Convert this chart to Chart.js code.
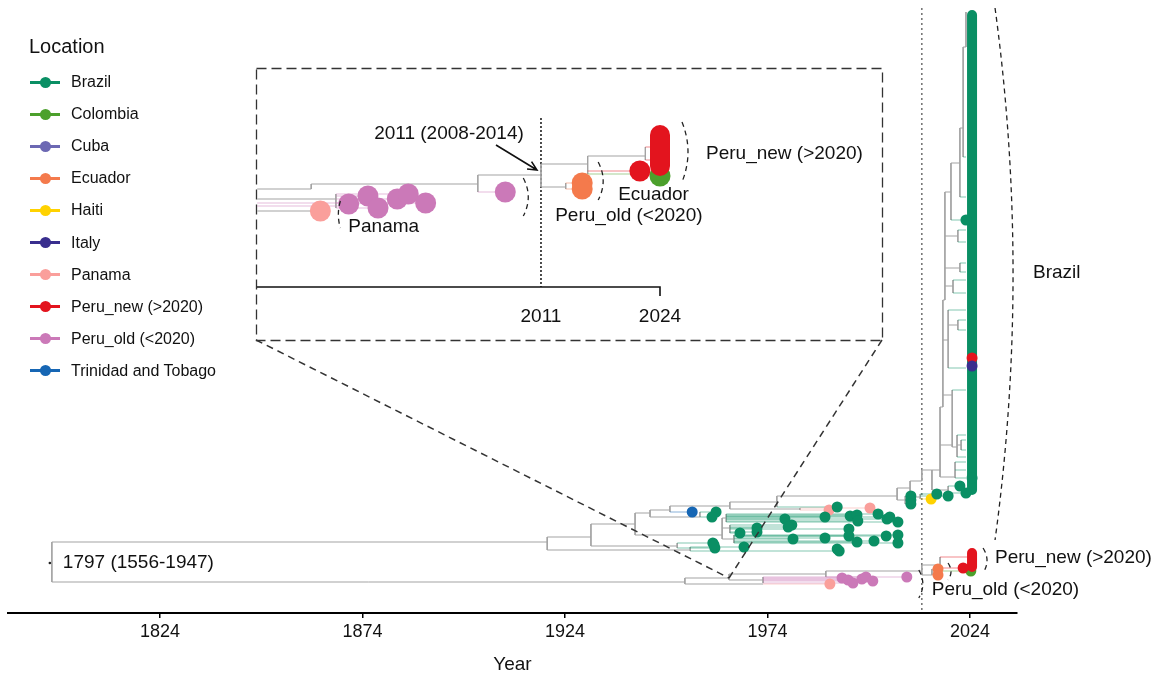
<!DOCTYPE html>
<html>
<head>
<meta charset="utf-8">
<script src="https://cdn.jsdelivr.net/npm/chart.js@4.4.1/dist/chart.umd.min.js"></script>
<style>
  body { margin: 0; background: #fff; }
  #wrap { position: relative; width: 1157px; height: 676px; font-family: 'Liberation Sans', Arial, sans-serif; color: #111; }
  #main { position: absolute; left: 0; top: 0; }
  #inset { position: absolute; }
  #legend { position: absolute; left: 29px; top: 33px; }
  .ttl { font-size: 20px; height: 26px; line-height: 26px; margin-bottom: 7px; }
  .item { height: 32.1px; display: flex; align-items: center; font-size: 16px; }
  .mk { position: relative; width: 30px; height: 3px; margin-left: 1px; margin-right: 11px; }
  .mk i { position: absolute; left: 9.5px; top: -4px; width: 11px; height: 11px; border-radius: 50%; }
</style>
</head>
<body>
<div id="wrap">
  <canvas id="main" width="1157" height="676"></canvas>
  <canvas id="inset" width="624" height="270"></canvas>
  <div id="legend"></div>
</div>
<script>
const FONT = "'Liberation Sans', Arial, sans-serif";

// ---- legend ----
const locKeys = ['Brazil', 'Colombia', 'Cuba', 'Ecuador', 'Haiti', 'Italy', 'Panama', 'Peru_new', 'Peru_old', 'Trinidad'];
const locNames = ['Brazil', 'Colombia', 'Cuba', 'Ecuador', 'Haiti', 'Italy', 'Panama', 'Peru_new (>2020)', 'Peru_old (<2020)', 'Trinidad and Tobago'];
const locColors = ['#0a8f64', '#4ca02c', '#6c68b3', '#f47a4c', '#ffd200', '#392e8e', '#fa9f9b', '#e3141e', '#cb79b8', '#1666b4'];

// ---- main panel: time tree (year, row) ----
const yearTicks = [1824, 1874, 1924, 1974, 2024];

// internal nodes: year, first and last child row
const nodeYear = [1797.3, 1919.6, 1930.4, 1941.3, 1945.0, 1949.9, 1964.7, 1976.3, 1982.0, 1957.3,
  1951.7, 1954.9, 1962.8, 1963.8, 1964.7, 1965.7, 1953.6, 1964.5, 1988.4, 2012.1,
  2014.6, 2016.6, 1972.9, 2006.0, 2008.0, 2009.2, 2011.7, 2012.1, 2014.6, 2016.6,
  2017.3, 2017.8, 2019.3, 2021.5, 2022.3, 2023.0, 2018.6, 2019.8, 2019.6, 2020.8,
  2021.8, 2020.3, 2021.0, 2021.5, 2021.0, 2018.6];
const nodeTop = [108.4, 107.4, 104.8, 102.6, 102.0, 101.2, 100.4, 99.2, 101.6, 102.4,
  108.6, 109.4, 103.6, 102.8, 105.0, 107.0, 115.6, 114.8, 114.2, 113.0,
  113.8, 111.4, 115.4, 97.6, 99.2, 96.2, 98.8, 94.0, 94.0, 81.4,
  60.0, 38.4, 32.6, 25.6, 9.4, 2.4, 62.0, 56.0, 78.0, 87.0,
  88.0, 92.4, 64.0, 52.6, 46.0, 97.2];
const nodeBottom = [116.4, 110.0, 109.2, 107.0, 103.4, 102.4, 101.8, 101.4, 102.0, 103.4,
  109.6, 110.2, 107.8, 104.4, 106.6, 108.6, 116.8, 116.0, 115.4, 115.0,
  115.0, 114.2, 116.6, 100.0, 100.8, 99.4, 99.8, 96.2, 98.0, 95.4,
  81.4, 60.0, 44.0, 39.4, 31.4, 9.4, 73.6, 58.6, 89.4, 91.4,
  90.0, 95.6, 66.0, 54.4, 48.4, 98.6];

// branches: start year, end year, row, location of the sampled tip ('' = internal)
const branchStart = [
  1797.3, 1797.3, 1919.6, 1919.6, 1930.4, 1930.4, 1941.3, 1941.3, 1945.0, 1945.0,
  1949.9, 1949.9, 1964.7, 1964.7, 1976.3, 1976.3, 1982.0, 1982.0, 1957.3, 1957.3,
  1951.7, 1951.7, 1954.9, 1954.9, 1962.8, 1962.8, 1962.8,
  1963.8, 1963.8, 1963.8, 1963.8, 1963.8, 1963.8, 1963.8, 1963.8, 1963.8,
  1964.7, 1964.7, 1964.7, 1964.7, 1964.7, 1964.7,
  1965.7, 1965.7, 1965.7, 1965.7, 1965.7, 1965.7, 1965.7, 1965.7,
  2006.0, 2006.0, 2008.0, 2008.0, 2008.0, 2009.2, 2009.2, 2011.7, 2011.7, 2011.7,
  2012.1, 2014.6, 2014.6, 2018.6, 2018.6, 2016.6, 2016.6, 2016.6, 2017.3, 2017.3,
  2017.3, 2017.8, 2017.8, 2017.8, 2017.8, 2019.3, 2019.3, 2021.5, 2021.5, 2022.3,
  2022.3, 2018.6, 2018.6, 2018.6, 2021.0, 2021.0, 2019.6, 2019.6, 2020.8, 2020.8,
  2020.8, 2021.8, 2021.8, 2019.8, 2019.8, 2021.0, 2021.0, 2021.5, 2021.5, 2020.3,
  2020.3, 2020.3,
  1953.6, 1953.6, 1972.9, 1964.5, 1964.5, 1972.9, 1972.9, 1972.9, 1972.9, 1972.9,
  1972.9, 1988.4, 1988.4, 2012.1, 2012.1, 2014.6, 2014.6, 2016.6, 2016.6, 2016.6];
const branchEnd = [
  1919.6, 1953.6, 1930.4, 1954.9, 1941.3, 1951.7, 1945.0, 1962.8, 1949.9, 1957.3,
  1964.7, 1955.4, 1976.3, 1982.0, 2006.0, 1991.2, 1999.3, 1989.2, 1961.3, 1960.3,
  1960.5, 1961.0, 1968.2, 1991.7, 1963.8, 1964.7, 1965.7,
  1978.3, 1988.2, 1994.4, 1996.1, 1996.3, 2003.5, 2004.2, 2006.2, 2001.3,
  1980.0, 1979.1, 1971.4, 1967.2, 1971.4, 1994.1,
  1994.1, 1980.3, 1988.2, 1996.1, 2000.3, 2003.3, 2006.2, 2006.2,
  2009.2, 2008.0, 2009.4, 2009.4, 2009.4, 2012.1, 2011.7, 2015.8, 2018.6, 2014.4,
  2014.6, 2016.6, 2018.6, 2021.5, 2023.0, 2017.3, 2019.6, 2020.3, 2017.8, 2018.6,
  2019.6, 2019.3, 2021.0, 2021.5, 2019.8, 2021.5, 2023.0, 2022.3, 2023.0, 2023.0,
  2023.0, 2023.0, 2023.0, 2021.0, 2023.0, 2023.0, 2023.0, 2020.8, 2023.0, 2023.0,
  2021.8, 2023.0, 2023.0, 2023.0, 2023.0, 2023.0, 2023.0, 2023.0, 2023.0, 2023.0,
  2023.0, 2023.0,
  1964.5, 1972.9, 1989.4, 1988.4, 1972.9, 1992.4, 1993.9, 1995.1, 1997.3, 1998.3,
  2000.0, 2012.1, 2008.4, 2016.6, 2014.6, 2016.1, 2016.1, 2023.5, 2022.3, 2024.2];
const branchRow = [
  108.4, 116.4, 107.4, 110.0, 104.8, 109.2, 102.6, 107.0, 102.0, 103.4,
  101.2, 102.4, 100.4, 101.8, 99.2, 101.4, 101.6, 102.0, 102.4, 103.4,
  108.6, 109.6, 109.4, 110.2, 103.6, 105.6, 107.8,
  103.8, 103.4, 103.2, 103.0, 104.2, 103.8, 103.4, 104.4, 102.8,
  105.0, 105.4, 105.6, 106.6, 106.4, 105.8,
  107.2, 107.8, 107.6, 108.4, 108.2, 107.2, 107.0, 108.6,
  97.6, 100.0, 99.2, 100.0, 100.8, 96.2, 99.4, 98.8, 99.2, 99.8,
  94.0, 94.0, 98.0, 97.2, 98.6, 81.4, 89.0, 95.4, 60.0, 68.0,
  79.0, 38.4, 47.2, 53.6, 57.2, 32.6, 44.0, 25.6, 39.4, 9.4,
  31.4, 62.0, 73.6, 65.0, 64.0, 66.0, 78.0, 89.4, 87.0, 91.4,
  89.0, 88.0, 90.0, 56.0, 58.6, 46.0, 48.4, 52.6, 54.4, 92.4,
  94.0, 95.6,
  115.6, 116.8, 116.8, 114.8, 116.0, 115.6, 116.0, 116.6, 115.8, 115.4,
  116.2, 114.2, 115.4, 113.0, 115.0, 113.8, 115.0, 111.4, 113.6, 114.2];
const branchLoc = [
  '', '', '', '', '', '', '', '', '', '',
  '', 'Trinidad', '', '', '', 'Brazil', 'Panama', 'Panama', 'Brazil', 'Brazil',
  'Brazil', 'Brazil', 'Brazil', 'Brazil', '', '', '',
  'Brazil', 'Brazil', 'Brazil', 'Brazil', 'Brazil', 'Brazil', 'Brazil', 'Brazil', 'Brazil',
  'Brazil', 'Brazil', 'Brazil', 'Brazil', 'Brazil', 'Brazil',
  'Brazil', 'Brazil', 'Brazil', 'Brazil', 'Brazil', 'Brazil', 'Brazil', 'Brazil',
  '', '', 'Brazil', 'Brazil', 'Brazil', '', '', 'Brazil', 'Brazil', 'Haiti',
  '', '', '', 'Brazil', 'Brazil', '', '', '', '', '',
  '', '', '', '', '', '', 'Brazil', '', 'Brazil', '',
  'Brazil', 'Brazil', 'Brazil', '', 'Brazil', 'Brazil', 'Brazil', '', 'Brazil', 'Brazil',
  '', 'Brazil', 'Brazil', 'Brazil', 'Brazil', 'Brazil', 'Brazil', 'Brazil', 'Brazil', 'Brazil',
  'Brazil', 'Brazil',
  '', '', 'Panama', '', '', 'Peru_old', 'Peru_old', 'Peru_old', 'Peru_old', 'Peru_old',
  'Peru_old', '', 'Peru_old', '', '', 'Ecuador', 'Ecuador', 'Peru_new', 'Peru_new', 'Colombia'];

// sampled tips
const tipYear = [1955.4,
  1961.3, 1960.3, 1960.5, 1961.0, 1960.8, 1968.2, 1991.7, 1991.2, 1991.2,
  1978.3, 1988.2, 1994.4, 1996.1, 1996.3, 2003.5, 2004.2, 2006.2, 2001.3,
  1980.0, 1979.1, 1971.4, 1967.2, 1971.4, 1994.1,
  1994.1, 1980.3, 1988.2, 1996.1, 2000.3, 2003.3, 2006.2, 2006.2,
  2009.4, 2009.4, 2009.4, 2015.8, 2018.6, 2021.5, 2023.0, 2023.0, 2024.5,
  1999.3, 1989.2, 1989.4, 2014.4,
  1992.4, 1993.9, 1995.1, 1997.3, 1998.3, 2000.0, 2008.4,
  2016.1, 2016.1, 2022.3, 2024.5, 2024.5, 2024.2];
const tipRow = [102.4,
  102.4, 103.4, 108.6, 109.6, 109.0, 109.4, 110.2, 109.8, 101.4,
  103.8, 103.4, 103.2, 103.0, 104.2, 103.8, 103.4, 104.4, 102.8,
  105.0, 105.4, 105.6, 106.6, 106.4, 105.8,
  107.2, 107.8, 107.6, 108.4, 108.2, 107.2, 107.0, 108.6,
  99.2, 100.0, 100.8, 98.8, 99.2, 97.2, 98.6, 44.0, 95.6,
  101.6, 102.0, 116.8, 99.8,
  115.6, 116.0, 116.6, 115.8, 115.4, 116.2, 115.4,
  113.8, 115.0, 113.6, 71.6, 73.2, 114.2];
const tipLoc = ['Trinidad',
  'Brazil', 'Brazil', 'Brazil', 'Brazil', 'Brazil', 'Brazil', 'Brazil', 'Brazil', 'Brazil',
  'Brazil', 'Brazil', 'Brazil', 'Brazil', 'Brazil', 'Brazil', 'Brazil', 'Brazil', 'Brazil',
  'Brazil', 'Brazil', 'Brazil', 'Brazil', 'Brazil', 'Brazil',
  'Brazil', 'Brazil', 'Brazil', 'Brazil', 'Brazil', 'Brazil', 'Brazil', 'Brazil',
  'Brazil', 'Brazil', 'Brazil', 'Brazil', 'Brazil', 'Brazil', 'Brazil', 'Brazil', 'Brazil',
  'Panama', 'Panama', 'Panama', 'Haiti',
  'Peru_old', 'Peru_old', 'Peru_old', 'Peru_old', 'Peru_old', 'Peru_old', 'Peru_old',
  'Ecuador', 'Ecuador', 'Peru_new', 'Peru_new', 'Italy', 'Colombia'];

// collapsed clades of recent samples
const cladeLoc = ['Brazil', 'Peru_new'];
const cladeYear = [2024.5, 2024.5];
const cladeTop = [3.0, 110.6];
const cladeBottom = [98.0, 113.4];

const rootYear = 1797.3, rootRow = 112.6;
const dividerYear = 2012.1;

// ---- inset: Peru lineage ----
const insetTicks = [2011, 2024];
const insetNodeYear = [1985.9, 1988.6, 2004.1, 2011.0, 2013.7, 2016.1, 2022.4];
const insetNodeTop = [23.0, 25.0, 21.2, 19.0, 22.8, 17.4, 15.6];
const insetNodeBottom = [24.0, 27.8, 24.6, 23.6, 24.0, 21.0, 18.2];
const insetBranchStart = [1980.0, 1985.9, 2004.1, 2004.1, 2011.0, 2011.0, 2013.7, 2013.7, 2016.1, 2016.1,
  2016.1, 2022.4, 2022.4, 1980.0, 1980.0, 1980.0, 1980.0, 1988.6, 1988.6, 1988.6, 1988.6, 1988.6];
const insetBranchEnd = [1985.9, 2004.1, 2011.0, 2007.1, 2016.1, 2013.7, 2015.5, 2015.5, 2022.4, 2021.8,
  2024.0, 2024.0, 2024.0, 1988.6, 1990.0, 1989.0, 1986.9, 1992.1, 1993.2, 1995.3, 1996.5, 1998.4];
const insetBranchRow = [24.0, 23.0, 21.2, 24.6, 19.0, 23.6, 22.8, 24.0, 17.4, 20.4,
  21.0, 15.6, 18.2, 26.0, 26.8, 27.4, 28.4, 25.4, 27.8, 26.0, 25.0, 26.8];
const insetBranchLoc = ['', '', '', 'Peru_old', '', '', 'Ecuador', 'Ecuador', '', 'Peru_new',
  'Colombia', 'Peru_new', 'Peru_new', '', 'Peru_old', 'Peru_old', '', 'Peru_old', 'Peru_old', 'Peru_old', 'Peru_old', 'Peru_old'];
const insetTipYear = [1986.9, 1990.0, 1992.1, 1993.2, 1995.3, 1996.5, 1998.4, 2007.1, 2015.5, 2015.5, 2021.8, 2024.0];
const insetTipRow = [28.4, 27.0, 25.4, 27.8, 26.0, 25.0, 26.8, 24.6, 22.8, 24.0, 20.4, 21.4];
const insetTipLoc = ['Panama', 'Peru_old', 'Peru_old', 'Peru_old', 'Peru_old', 'Peru_old', 'Peru_old', 'Peru_old',
  'Ecuador', 'Ecuador', 'Peru_new', 'Colombia'];
const insetCladeLoc = ['Peru_new'];
const insetCladeYear = [2024.0];
const insetCladeTop = [13.2];
const insetCladeBottom = [19.4];

// ---- layout of the zoom box (page pixels) ----
const insetBox = { left: 256, top: 68, right: 882, bottom: 340 };
const insetAnchor = { year: 1964.5, row: 115.6 };

// annotations
const mainNotes = [
  { text: '1797 (1556-1947)', year: 1797.3, row: 112.6, dx: 11 },
  { text: 'Brazil', year: 2024.5, row: 54.6, dx: 61 },
  { text: 'Peru_new (>2020)', year: 2024.5, row: 111.6, dx: 23 },
  { text: 'Peru_old (<2020)', year: 2012.1, row: 118.0, dx: 10 }
];
const mainArcs = [
  { year: 2024.5, top: 1.6, bottom: 108.0, dx: 23, bulge: 18 },
  { year: 2024.5, top: 109.6, bottom: 114.6, dx: 11, bulge: 4 },
  { year: 2016.1, top: 112.6, bottom: 116.0, dx: 10, bulge: 3 },
  { year: 2012.1, top: 114.0, bottom: 119.6, dx: -3, bulge: 4 }
];
const insetNotes = [
  { text: '2011 (2008-2014)', year: 2011, row: 13.0, dx: -92, align: 'center' },
  { text: 'Peru_new (>2020)', year: 2024, row: 17.0, dx: 46 },
  { text: 'Ecuador', year: 2015.5, row: 25.2, dx: 36 },
  { text: 'Peru_old (<2020)', year: 2015.5, row: 29.4, dx: -27 },
  { text: 'Panama', year: 1986.9, row: 31.6, dx: 28 }
];
const insetArcs = [
  { year: 1986.9, top: 26.4, bottom: 31.8, dx: 20, bulge: -2 },
  { year: 2007.1, top: 21.8, bottom: 29.4, dx: 18, bulge: 5 },
  { year: 2015.5, top: 18.6, bottom: 26.2, dx: 16, bulge: 5 },
  { year: 2024.0, top: 10.6, bottom: 22.6, dx: 22, bulge: 6 }
];

function colorOf(loc) { return locColors[locKeys.indexOf(loc)]; }
function tint(hex, a) {
  const n = parseInt(hex.slice(1), 16);
  return `rgba(${n >> 16},${(n >> 8) & 255},${n & 255},${a})`;
}

// legend
const legend = document.getElementById('legend');
legend.innerHTML = '<div class="ttl">Location</div>' + locNames.map((name, i) =>
  `<div class="item"><span class="mk" style="background:${locColors[i]}"><i style="background:${locColors[i]}"></i></span>${name}</div>`).join('');

function buildSets(nYear, nTop, nBottom, bStart, bEnd, bRow, bLoc, tYear, tRow, tLoc, cLoc, cYear, cTop, cBottom, sizes) {
  const groups = { '': [] };
  nYear.forEach((yr, i) => groups[''].push({ x: yr, y: nTop[i] }, { x: yr, y: nBottom[i] }, { x: yr, y: null }));
  bStart.forEach((s, i) => {
    const k = bLoc[i];
    (groups[k] = groups[k] || []).push({ x: s, y: bRow[i] }, { x: bEnd[i], y: bRow[i] }, { x: bEnd[i], y: null });
  });
  const sets = [];
  Object.keys(groups).forEach(k => {
    sets.push({
      type: 'line', data: groups[k], spanGaps: false, pointRadius: 0, tension: 0,
      borderColor: k ? tint(colorOf(k), 0.5) : '#a3a3a3', borderWidth: 1, order: k ? 9 : 10
    });
  });
  cLoc.forEach((loc, i) => {
    sets.push({
      type: 'line', data: [{ x: cYear[i], y: cTop[i] }, { x: cYear[i], y: cBottom[i] }],
      borderColor: colorOf(loc), borderWidth: sizes.bar, borderCapStyle: 'round', pointRadius: 0, order: 5
    });
  });
  locKeys.forEach(loc => {
    const pts = [];
    tYear.forEach((yr, i) => { if (tLoc[i] === loc) pts.push({ x: yr, y: tRow[i] }); });
    if (!pts.length) return;
    sets.push({
      type: 'scatter', data: pts, pointRadius: sizes.tip, pointBorderWidth: 0,
      pointBackgroundColor: colorOf(loc), order: loc === 'Colombia' ? 6 : 3
    });
  });
  return sets;
}

function drawArc(ctx, x, y1, y2, bulge) {
  ctx.beginPath();
  ctx.moveTo(x, y1);
  ctx.quadraticCurveTo(x + 2 * bulge, (y1 + y2) / 2, x, y2);
  ctx.stroke();
}
function drawNotes(ctx, xs, ys, notes) {
  ctx.fillStyle = '#111';
  ctx.font = `19px ${FONT}`;
  ctx.textBaseline = 'middle';
  notes.forEach(n => {
    ctx.textAlign = n.align || 'left';
    ctx.fillText(n.text, xs.getPixelForValue(n.year) + n.dx, ys.getPixelForValue(n.row));
  });
}

const mainDecor = {
  id: 'mainDecor',
  beforeDatasetsDraw(chart) {
    const { ctx, scales: { x, y }, chartArea } = chart;
    const px = x.getPixelForValue(dividerYear);
    ctx.save();
    ctx.setLineDash([2, 3]);
    ctx.strokeStyle = '#707070';
    ctx.lineWidth = 1.5;
    ctx.beginPath();
    ctx.moveTo(px, 8);
    ctx.lineTo(px, chartArea.bottom);
    ctx.stroke();
    ctx.restore();
  },
  afterDatasetsDraw(chart) {
    const { ctx, scales: { x, y } } = chart;
    ctx.save();
    // root node
    ctx.fillStyle = '#222';
    ctx.beginPath();
    ctx.arc(x.getPixelForValue(rootYear) - 2, y.getPixelForValue(rootRow), 1.3, 0, Math.PI * 2);
    ctx.fill();
    ctx.strokeStyle = '#222';
    ctx.lineWidth = 1.3;
    ctx.setLineDash([5, 4]);
    mainArcs.forEach(a => drawArc(ctx, x.getPixelForValue(a.year) + a.dx, y.getPixelForValue(a.top), y.getPixelForValue(a.bottom), a.bulge));
    drawNotes(ctx, x, y, mainNotes);
    // zoom box and its connectors
    ctx.strokeStyle = '#333';
    ctx.setLineDash([10, 5]);
    ctx.lineWidth = 1.3;
    ctx.strokeRect(insetBox.left + 0.5, insetBox.top + 0.5, insetBox.right - insetBox.left, insetBox.bottom - insetBox.top);
    const ax = x.getPixelForValue(insetAnchor.year), ay = y.getPixelForValue(insetAnchor.row);
    ctx.setLineDash([7, 5]);
    ctx.lineWidth = 1.5;
    ctx.beginPath();
    ctx.moveTo(insetBox.left, insetBox.bottom); ctx.lineTo(ax, ay);
    ctx.moveTo(insetBox.right, insetBox.bottom); ctx.lineTo(ax, ay);
    ctx.stroke();
    ctx.restore();
  }
};

new Chart(document.getElementById('main'), {
  type: 'scatter',
  data: {
    datasets: buildSets(nodeYear, nodeTop, nodeBottom, branchStart, branchEnd, branchRow, branchLoc,
      tipYear, tipRow, tipLoc, cladeLoc, cladeYear, cladeTop, cladeBottom, { tip: 5.5, bar: 10 })
  },
  options: {
    responsive: false,
    animation: false,
    layout: { autoPadding: false, padding: { left: 8, right: 140, top: 0, bottom: 0 } },
    plugins: { legend: { display: false }, tooltip: { enabled: false } },
    scales: {
      x: {
        type: 'linear', min: 1786.47, max: 2035.6,
        afterBuildTicks: s => { s.ticks = yearTicks.map(v => ({ value: v })); },
        afterFit: s => { s.height = 63; },
        grid: { drawOnChartArea: false, drawTicks: true, tickLength: 5, color: '#000', lineWidth: 1.5 },
        border: { display: true, color: '#000', width: 2 },
        ticks: { color: '#111', font: { family: FONT, size: 18 }, padding: 3, maxRotation: 0, callback: v => String(v) },
        title: { display: true, text: 'Year', color: '#111', font: { family: FONT, size: 19 }, padding: { top: 0, bottom: 0 } }
      },
      y: { display: false, reverse: true, min: 0, max: 122.6 }
    }
  },
  plugins: [mainDecor]
});

// ---- inset ----
const insetEl = document.getElementById('inset');
insetEl.style.left = (insetBox.left + 1) + 'px';
insetEl.style.top = (insetBox.top + 1) + 'px';

const insetDecor = {
  id: 'insetDecor',
  beforeDatasetsDraw(chart) {
    const { ctx, scales: { x, y }, chartArea } = chart;
    ctx.save();
    const px = x.getPixelForValue(2011);
    ctx.setLineDash([2, 2]);
    ctx.strokeStyle = '#111';
    ctx.lineWidth = 1.5;
    ctx.beginPath();
    ctx.moveTo(px, y.getPixelForValue(9.8));
    ctx.lineTo(px, chartArea.bottom);
    ctx.stroke();
    ctx.setLineDash([]);
    const end = x.getPixelForValue(insetTicks[1]);
    ctx.lineWidth = 1.6;
    ctx.beginPath();
    ctx.moveTo(chartArea.left, chartArea.bottom);
    ctx.lineTo(end, chartArea.bottom);
    ctx.lineTo(end, chartArea.bottom + 9);
    ctx.stroke();
    ctx.restore();
  },
  afterDatasetsDraw(chart) {
    const { ctx, scales: { x, y } } = chart;
    ctx.save();
    ctx.strokeStyle = '#222';
    ctx.lineWidth = 1.3;
    ctx.setLineDash([5, 4]);
    insetArcs.forEach(a => drawArc(ctx, x.getPixelForValue(a.year) + a.dx, y.getPixelForValue(a.top), y.getPixelForValue(a.bottom), a.bulge));
    ctx.setLineDash([]);
    drawNotes(ctx, x, y, insetNotes);
    // arrow to the 2011 node
    const tx = x.getPixelForValue(2011) - 4, ty = y.getPixelForValue(20.2);
    const fx = tx - 41, fy = ty - 25;
    const ang = Math.atan2(ty - fy, tx - fx);
    ctx.strokeStyle = '#111';
    ctx.lineWidth = 1.6;
    ctx.beginPath();
    ctx.moveTo(fx, fy); ctx.lineTo(tx, ty);
    ctx.moveTo(tx - 10 * Math.cos(ang - 0.45), ty - 10 * Math.sin(ang - 0.45));
    ctx.lineTo(tx, ty);
    ctx.lineTo(tx - 10 * Math.cos(ang + 0.45), ty - 10 * Math.sin(ang + 0.45));
    ctx.stroke();
    ctx.restore();
  }
};

new Chart(insetEl, {
  type: 'scatter',
  data: {
    datasets: buildSets(insetNodeYear, insetNodeTop, insetNodeBottom, insetBranchStart, insetBranchEnd, insetBranchRow, insetBranchLoc,
      insetTipYear, insetTipRow, insetTipLoc, insetCladeLoc, insetCladeYear, insetCladeTop, insetCladeBottom, { tip: 10.5, bar: 20 })
  },
  options: {
    responsive: false,
    animation: false,
    layout: { autoPadding: false, padding: 0 },
    plugins: { legend: { display: false }, tooltip: { enabled: false } },
    scales: {
      x: {
        type: 'linear', min: 1979.98, max: 2048.14,
        afterBuildTicks: s => { s.ticks = insetTicks.map(v => ({ value: v })); },
        afterFit: s => { s.height = 52; },
        grid: { display: false },
        border: { display: false },
        ticks: { color: '#111', font: { family: FONT, size: 19 }, padding: 10, maxRotation: 0, callback: v => String(v) }
      },
      y: { display: false, reverse: true, min: 0, max: 43.6 }
    }
  },
  plugins: [insetDecor]
});
</script>
</body>
</html>
